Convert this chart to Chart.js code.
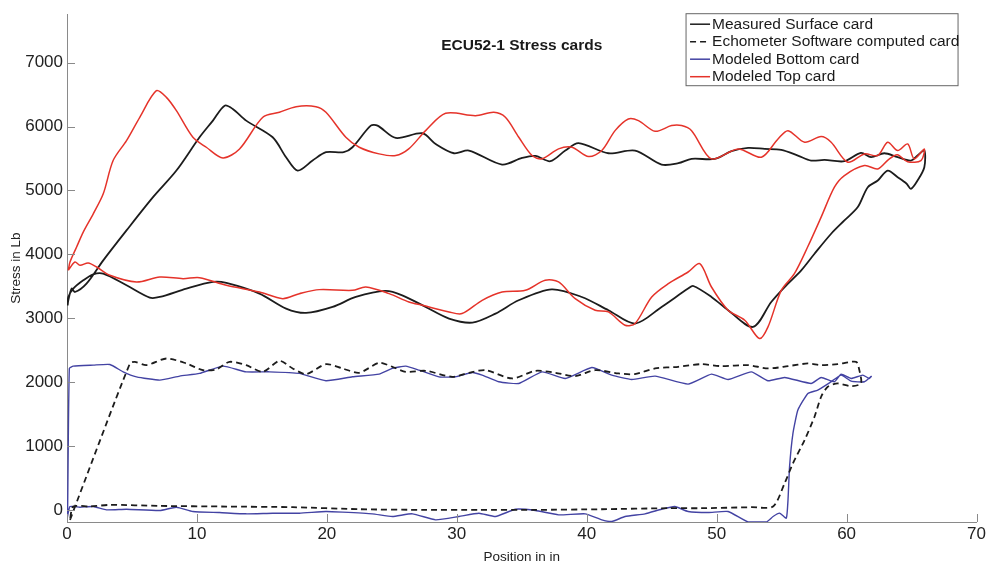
<!DOCTYPE html>
<html>
<head>
<meta charset="utf-8">
<title>ECU52-1 Stress cards</title>
<script src="https://cdn.jsdelivr.net/npm/chart.js@4.4.1/dist/chart.umd.min.js"></script>
<style>
  html, body { margin: 0; padding: 0; background: #ffffff; }
  #wrap { width: 988px; height: 565px; }
</style>
</head>
<body>
<div id="wrap"><canvas id="card" width="988" height="565"></canvas></div>
<script>
// Axis ticks
const xTicks = [0, 10, 20, 30, 40, 50, 60, 70];
const yTicks = [0, 1000, 2000, 3000, 4000, 5000, 6000, 7000];

// Measured surface card: position (in) and stress (lb), traced as a closed loop
const surfaceX = [0.05, 0.1, 0.36, 0.61, 1.5, 2.79, 4.58, 6.62, 8.42, 10.2, 11.23, 12.13, 12.76, 13.79, 15.83, 16.86, 17.75, 18.9, 19.93, 21.3, 21.97, 23.38, 23.9, 25.3, 27.35, 28.37, 29.78, 30.93, 33.48, 35.02, 36.05, 37.2, 38.35, 39.37, 41.67, 43.72, 45.76, 47.05, 48.07, 49.86, 51.14, 52.42, 53.7, 54.97, 56.25, 57.27, 58.3, 59.83, 61.1, 61.88, 62.9, 63.93, 64.95, 65.46, 65.98,
  65.98, 65.46, 64.95, 64.6, 63.93, 63.16, 62.4, 61.63, 60.86, 59.83, 58.81, 57.53, 56.51, 55.23, 54.2, 52.8, 50.88, 49.6, 48.2, 47.8, 45.76, 43.72, 41.67, 39.62, 37.3, 34.76, 32.98, 31.2, 29.4, 27.6, 25.8, 24.5, 22.23, 20.44, 18.4, 16.86, 14.81, 12.26, 11.23, 9.19, 7.14, 6.37, 4.58, 2.79, 2.02, 1.25, 0.48, 0.1, 0.05];
const surfaceY = [3200, 3280, 3464, 3411, 3542, 3906, 4375, 4895, 5312, 5833, 6094, 6328, 6276, 6094, 5833, 5521, 5312, 5469, 5599, 5599, 5677, 6016, 6016, 5823, 5896, 5729, 5583, 5625, 5406, 5510, 5542, 5458, 5625, 5740, 5583, 5625, 5406, 5427, 5495, 5495, 5615, 5667, 5651, 5635, 5547, 5469, 5479, 5458, 5589, 5521, 5583, 5521, 5469, 5547, 5625,
  5365, 5156, 5026, 5110, 5208, 5312, 5156, 5052, 4740, 4531, 4323, 4010, 3750, 3489, 3255, 2864, 3125, 3333, 3505, 3464, 3177, 2917, 3125, 3333, 3453, 3281, 3073, 2932, 2995, 3177, 3359, 3427, 3333, 3177, 3083, 3151, 3385, 3552, 3568, 3464, 3333, 3323, 3516, 3698, 3688, 3594, 3464, 3333, 3200];

// Echometer software computed card
const echoX = [0.23, 4.84, 5.22, 6.12, 7.65, 9.19, 10.46, 11.5, 12.51, 13.79, 15.07, 16.35, 17.37, 18.4, 19.93, 21.2, 22.49, 24.02, 25.04, 26.07, 27.6, 29.65, 30.93, 32.2, 34.26, 36.05, 37.6, 39.11, 40.65, 42.44, 43.7, 45.26, 47.05, 48.83, 50.37, 52.42, 53.95, 55.49, 57.02, 58.04, 59.32, 60.73, 60.98, 61.11,
  60.35, 59.32, 58.55, 58.04, 57.53, 56.77, 55.87, 55.23, 54.34, 52.67, 48.83, 46.3, 41.16, 36.05, 31.7, 27.6, 22.5, 17.37, 12.26, 7.14, 3.3, 1.76, 0.48, 0.23];
const echoY = [-156, 2292, 2318, 2266, 2370, 2292, 2187, 2200, 2318, 2266, 2161, 2333, 2214, 2125, 2281, 2214, 2146, 2302, 2240, 2161, 2177, 2083, 2146, 2187, 2057, 2177, 2146, 2094, 2187, 2136, 2125, 2214, 2240, 2281, 2250, 2266, 2214, 2250, 2292, 2266, 2281, 2318, 2187, 1979,
  1937, 1979, 1927, 1771, 1458, 1094, 729, 417, 52, 42, 26, 26, 10, 0, 0, 0, 10, 42, 52, 62, 78, 52, 52, -156];

// Modeled bottom (downhole) card
const bottomX = [0.0, 0.05, 0.18, 0.48, 2.02, 3.3, 4.32, 5.35, 7.14, 8.67, 10.2, 12.0, 13.79, 15.58, 17.88, 19.93, 21.97, 24.02, 25.04, 26.07, 27.1, 28.63, 29.9, 31.2, 31.95, 33.23, 34.77, 36.56, 38.35, 40.39, 41.93, 43.46, 45.26, 47.8, 49.6, 50.88, 52.67, 53.95, 55.23, 57.27, 58.04, 59.06, 59.58, 60.35, 61.24, 61.75, 61.9,
  61.37, 60.35, 59.58, 58.8, 57.78, 57.02, 56.25, 55.87, 55.61, 55.49, 55.36, 54.85, 54.34, 53.82, 52.42, 50.88, 49.35, 47.8, 46.78, 45.76, 44.49, 42.95, 41.93, 41.16, 39.88, 37.83, 36.05, 34.52, 32.98, 31.7, 30.16, 28.37, 26.58, 25.04, 23.5, 21.2, 19.93, 17.88, 15.83, 13.79, 11.74, 9.69, 8.42, 7.14, 4.58, 3.04, 2.02, 1.0, 0.23, 0.0];
const bottomY = [-150, 50, 2214, 2250, 2266, 2276, 2161, 2083, 2031, 2094, 2136, 2250, 2161, 2161, 2136, 2021, 2083, 2125, 2214, 2250, 2187, 2083, 2083, 2150, 2109, 2005, 1979, 2161, 2057, 2229, 2109, 2042, 2094, 1969, 2125, 2042, 2161, 2021, 2073, 1979, 2073, 2005, 2125, 2057, 2109, 2057, 2090,
  2005, 2015, 2109, 2005, 1875, 1823, 1562, 1198, 677, 156, -130, -52, -104, -190, -190, -26, -42, -26, 52, 10, -62, -104, -182, -156, -62, -78, -10, 10, -104, -52, -104, -156, -62, -104, -62, -36, -26, -52, -52, -62, -42, -26, 42, -10, 10, 0, 52, 42, 52, -150];

// Modeled top (surface) card
const topX = [0.1, 0.23, 0.74, 1.25, 2.02, 2.79, 3.55, 4.58, 5.6, 6.88, 7.65, 8.42, 9.69, 10.72, 12.0, 13.28, 15.07, 16.35, 17.63, 19.16, 19.93, 21.46, 22.49, 24.02, 25.3, 26.3, 27.6, 29.14, 31.44, 32.85, 33.74, 34.77, 35.79, 36.56, 37.83, 38.86, 40.14, 41.16, 42.18, 43.2, 43.98, 45.26, 46.53, 47.3, 48.07, 49.6, 51.65, 53.44, 54.72, 55.49, 56.77, 58.04, 58.81, 60.09, 61.37, 62.39, 63.16, 63.93, 64.7, 65.2, 65.98,
  65.72, 64.7, 63.9, 63.2, 62.39, 61.37, 59.83, 59.06, 58.04, 57.0, 55.98, 54.97, 53.95, 53.3, 52.16, 50.88, 49.6, 48.7, 47.8, 46.28, 45.0, 43.72, 42.95, 41.67, 40.65, 39.11, 37.83, 36.8, 35.27, 33.48, 31.95, 30.4, 29.4, 27.35, 26.32, 24.79, 23.0, 21.97, 19.42, 17.88, 16.6, 14.81, 12.26, 10.2, 8.93, 7.14, 5.35, 3.3, 2.28, 1.63, 1.0, 0.61, 0.1];
const topY = [3750, 3880, 4115, 4349, 4635, 4948, 5469, 5781, 6146, 6562, 6458, 6250, 5833, 5677, 5510, 5651, 6146, 6224, 6312, 6312, 6224, 5833, 5677, 5573, 5547, 5651, 5937, 6208, 6172, 6224, 6146, 5833, 5547, 5495, 5651, 5677, 5531, 5625, 5937, 6120, 6094, 5927, 6016, 6016, 5937, 5495, 5651, 5521, 5807, 5937, 5755, 5844, 5755, 5443, 5573, 5547, 5755, 5625, 5729, 5495, 5651,
  5469, 5450, 5560, 5480, 5338, 5390, 5234, 5052, 4583, 4115, 3698, 3437, 2864, 2682, 2969, 3125, 3489, 3854, 3724, 3542, 3333, 2917, 2890, 3099, 3125, 3307, 3568, 3594, 3437, 3411, 3281, 3073, 3099, 3203, 3255, 3385, 3489, 3437, 3448, 3385, 3307, 3411, 3516, 3635, 3620, 3646, 3568, 3672, 3802, 3865, 3828, 3880, 3750];

const seriesNames = ['Measured Surface card', 'Echometer Software computed card', 'Modeled Bottom card', 'Modeled Top card'];

const toPoints = (xs, ys) => xs.map((x, i) => ({ x: x, y: ys[i] }));

const FONT = '"Liberation Sans", Arial, Helvetica, sans-serif';
Chart.defaults.font.family = FONT;
Chart.defaults.color = '#222222';

const AXIS_GRAY = '#8a8a8a';

// Inward tick marks along the left and bottom axes, title and boxed legend
const decorations = {
  id: 'decorations',
  afterDatasetsDraw(chart) {
    const { ctx, chartArea: a, scales } = chart;
    ctx.save();
    ctx.strokeStyle = AXIS_GRAY;
    ctx.lineWidth = 1;
    ctx.beginPath();
    yTicks.forEach(v => {
      const py = Math.round(scales.y.getPixelForValue(v)) + 0.5;
      ctx.moveTo(a.left, py);
      ctx.lineTo(a.left + 8, py);
    });
    xTicks.forEach(v => {
      const px = Math.round(scales.x.getPixelForValue(v)) + 0.5;
      ctx.moveTo(px, a.bottom);
      ctx.lineTo(px, a.bottom - 8);
    });
    ctx.stroke();

    // title
    ctx.fillStyle = '#1a1a1a';
    ctx.font = 'bold 15.5px ' + FONT;
    ctx.textAlign = 'center';
    ctx.textBaseline = 'middle';
    ctx.fillText('ECU52-1 Stress cards', (a.left + a.right) / 2, 46);

    // legend
    const lx = a.right - 290.5, ly = a.top - 0.5, lw = 272, lh = 72;
    ctx.fillStyle = '#ffffff';
    ctx.fillRect(lx, ly, lw, lh);
    ctx.strokeStyle = '#666666';
    ctx.strokeRect(lx, ly, lw, lh);
    ctx.font = '15.5px ' + FONT;
    ctx.textAlign = 'left';
    chart.data.datasets.forEach((ds, i) => {
      const ry = ly + 10.5 + i * 17.5;
      ctx.strokeStyle = ds.borderColor;
      ctx.lineWidth = 1.5;
      ctx.setLineDash(ds.borderDash || []);
      ctx.beginPath();
      ctx.moveTo(lx + 4, ry);
      ctx.lineTo(lx + 24, ry);
      ctx.stroke();
      ctx.setLineDash([]);
      ctx.fillStyle = '#1a1a1a';
      ctx.fillText(ds.label, lx + 26, ry + 0.5);
    });
    ctx.restore();
  }
};

const common = { showLine: true, pointRadius: 0, pointHoverRadius: 0, fill: false };

new Chart(document.getElementById('card'), {
  type: 'scatter',
  data: {
    datasets: [
      Object.assign({ label: seriesNames[0], data: toPoints(surfaceX, surfaceY), borderColor: '#1c1c1c', borderWidth: 1.8, tension: 0.3, order: 1 }, common),
      Object.assign({ label: seriesNames[1], data: toPoints(echoX, echoY), borderColor: '#1c1c1c', borderWidth: 1.8, borderDash: [6, 4], tension: 0.25, order: 2 }, common),
      Object.assign({ label: seriesNames[2], data: toPoints(bottomX, bottomY), borderColor: '#4343a3', borderWidth: 1.4, tension: 0.15, order: 3 }, common),
      Object.assign({ label: seriesNames[3], data: toPoints(topX, topY), borderColor: '#e5332a', borderWidth: 1.5, tension: 0.3, order: 0 }, common)
    ]
  },
  options: {
    responsive: false,
    animation: false,
    layout: { padding: { left: 0, right: 9, top: 13, bottom: 0 } },
    plugins: { legend: { display: false }, tooltip: { enabled: false }, title: { display: false } },
    scales: {
      x: {
        type: 'linear',
        min: 0,
        max: 70,
        afterBuildTicks: s => { s.ticks = xTicks.map(v => ({ value: v })); },
        afterFit: s => { s.height = 43; },
        ticks: { font: { size: 17 }, color: '#222222', padding: 2, maxRotation: 0, callback: v => String(v) },
        grid: { display: false, drawTicks: false },
        border: { display: true, color: AXIS_GRAY, width: 1 },
        title: { display: true, text: 'Position in in', font: { size: 13.5, lineHeight: 1.0 }, color: '#222222', padding: { top: 0, bottom: 1 } }
      },
      y: {
        type: 'linear',
        min: -190,
        max: 7760,
        afterBuildTicks: s => { s.ticks = yTicks.map(v => ({ value: v })); },
        afterFit: s => { s.width = 67; },
        ticks: { font: { size: 17 }, color: '#222222', padding: 4, callback: v => String(v) },
        grid: { display: false, drawTicks: false },
        border: { display: true, color: AXIS_GRAY, width: 1 },
        title: { display: true, text: 'Stress in Lb', font: { size: 13.5 }, color: '#222222', padding: { top: 8, bottom: 0 } }
      }
    }
  },
  plugins: [decorations]
});
</script>
</body>
</html>
